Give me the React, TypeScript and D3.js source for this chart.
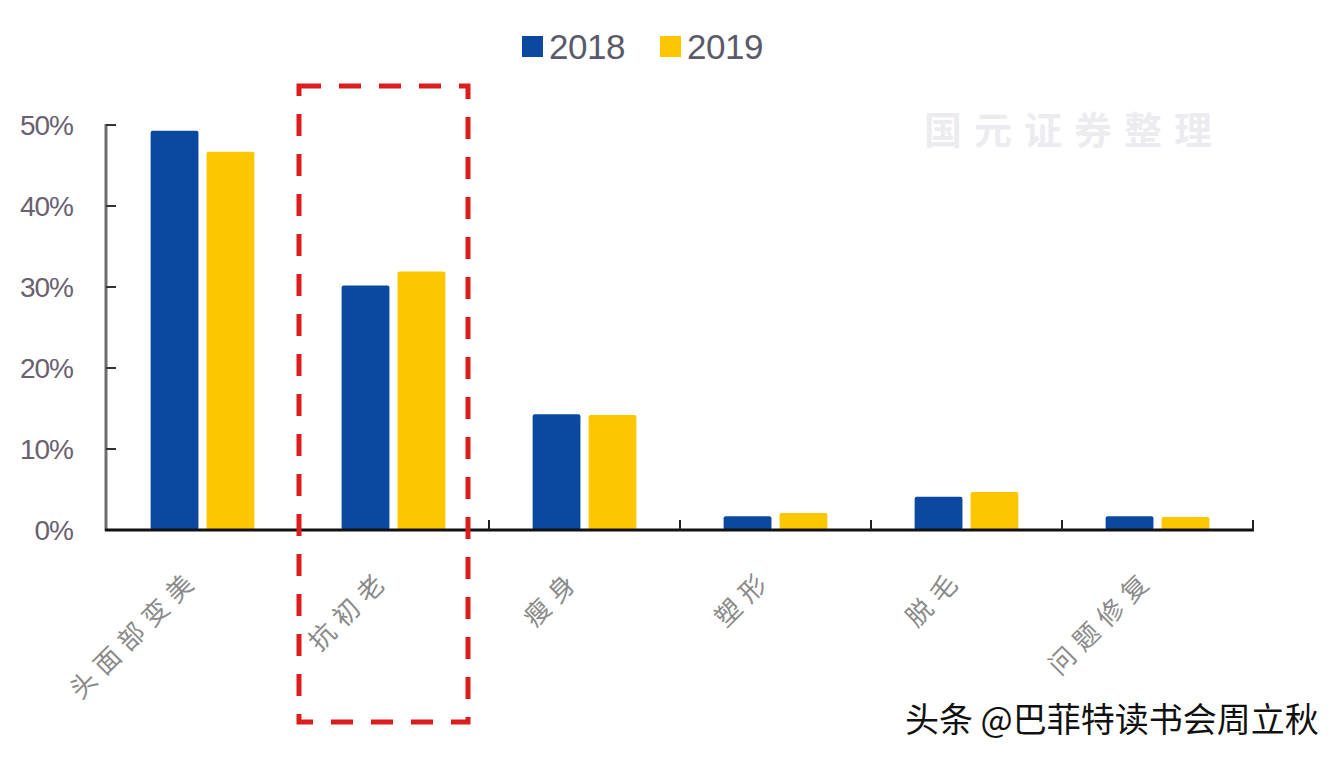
import React from "react";
import * as d3 from "d3";

const categories = ["头面部变美", "抗初老", "瘦身", "塑形", "脱毛", "问题修复"];
const seriesNames = ["2018", "2019"];
const values2018 = [49.3, 30.2, 14.3, 1.7, 4.1, 1.7];
const values2019 = [46.7, 31.9, 14.2, 2.1, 4.7, 1.6];
const yTicks = [0, 10, 20, 30, 40, 50];
const colors = ["#0b49a0", "#fdc700"];

const W = 1342;
const H = 758;

export default function App() {
  const x0 = d3.scaleBand<string>().domain(categories).range([107, 1253]).paddingInner(0).paddingOuter(0);
  const x1 = d3.scaleBand<string>().domain(seriesNames).range([0, x0.bandwidth()]).paddingInner(0.145).paddingOuter(0.78);
  const y = d3.scaleLinear().domain([0, 50]).range([530, 125]);
  const series = [values2018, values2019];

  return (
    <svg width={W} height={H} style={{ position: "absolute", left: 0, top: 0, background: "#fff" }}>
      {/* watermark */}
      <text x={1074} y={144} textAnchor="middle" fontFamily="'Noto Sans CJK SC', serif" fontWeight={700} fontSize={38} fill="#ececf0" letterSpacing={12}>
        国元证券整理
      </text>

      {/* legend */}
      {seriesNames.map((s, i) => {
        const lx = i === 0 ? 522 : 660;
        return (
          <g key={s}>
            <rect x={lx} y={36} width={21} height={21} fill={colors[i]} />
            <text x={lx + 27} y={59} fontFamily="'Liberation Sans', Arial, sans-serif" fontSize={35} fill="#5a5a6a" letterSpacing={-0.5}>
              {s}
            </text>
          </g>
        );
      })}

      {/* bars */}
      {categories.map((c, ci) => (
        <g key={c} transform={`translate(${x0(c)},0)`}>
          {seriesNames.map((s, si) => {
            const v = series[si][ci];
            return (
              <rect key={s} x={x1(s)} y={y(v)} width={x1.bandwidth()} height={y(0) - y(v)} fill={colors[si]} rx={2} />
            );
          })}
        </g>
      ))}

      {/* y axis */}
      <line x1={106} x2={106} y1={124} y2={531} stroke="#6e6e6e" strokeWidth={3} />
      {yTicks.map((t) => (
        <g key={t}>
          <line x1={106} x2={116} y1={y(t)} y2={y(t)} stroke="#333" strokeWidth={2} />
          <text x={73} y={y(t) + 10} textAnchor="end" fontFamily="'Liberation Sans', Arial, sans-serif" fontSize={28} fill="#6a6070" letterSpacing={-1}>
            {t}%
          </text>
        </g>
      ))}

      {/* x axis */}
      <line x1={105} x2={1254} y1={530} y2={530} stroke="#111" strokeWidth={3} />
      {categories.map((c) => (
        <line key={c} x1={(x0(c) as number) + x0.bandwidth()} x2={(x0(c) as number) + x0.bandwidth()} y1={530} y2={520} stroke="#222" strokeWidth={2} />
      ))}

      {/* x labels */}
      {categories.map((c) => {
        const cx = (x0(c) as number) + x0.bandwidth() / 2 - 8;
        const cy = 574;
        return (
          <text
            key={c}
            transform={`translate(${cx},${cy}) rotate(-45)`}
            textAnchor="end"
            fontFamily="'Noto Sans CJK SC', serif"
            fontSize={26}
            fill="#8a8a8a"
            letterSpacing={8}
            dy={9}
          >
            {c}
          </text>
        );
      })}

      {/* highlight box */}
      <rect x={299} y={86} width={169} height={636} fill="none" stroke="#dd1c1c" strokeWidth={5} strokeDasharray="22 18" />

      {/* source */}
      <text x={905} y={732} fontFamily="'Noto Sans CJK SC', sans-serif" fontSize={34} fill="#111">
        头条 @巴菲特读书会周立秋
      </text>
    </svg>
  );
}
